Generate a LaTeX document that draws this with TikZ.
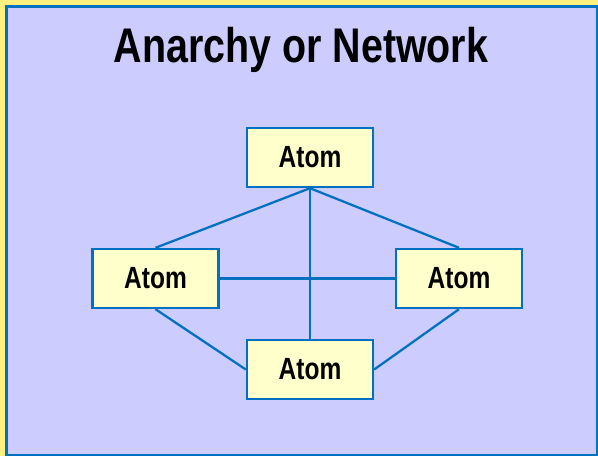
\documentclass[tikz,border=0pt]{standalone}
\usepackage{fontspec}
\setmainfont{Liberation Sans}
\definecolor{outery}{RGB}{255,240,128}
\definecolor{lav}{RGB}{204,204,255}
\definecolor{boxy}{RGB}{255,255,204}
\definecolor{lineb}{RGB}{0,112,192}
\newcommand{\atomtxt}{\raisebox{-1.5pt}{\scalebox{0.8}[1]{Atom}}}
\begin{document}
\begin{tikzpicture}[x=0.75pt,y=-0.75pt,
  atombox/.style={draw=lineb,fill=boxy,line width=1.8pt,minimum width=126*0.75pt,minimum height=59*0.75pt,inner sep=0pt,
    font=\fontsize{23}{26}\selectfont\bfseries},
  link/.style={draw=lineb,line width=1.7pt}]
\useasboundingbox (0,0) rectangle (598,456);
\fill[outery] (0,0) rectangle (598,456);
\draw[fill=lav,draw=lineb,line width=1.7pt] (6.5,6.5) rectangle (597,455);
\node[font=\fontsize{36.5}{40}\selectfont\bfseries] (title) at (301,50) {\scalebox{0.81}[1]{Anarchy or Network}};
\node[atombox] (top) at (310,157.5) {\atomtxt};
\node[atombox] (left) at (155.5,278.5) {\atomtxt};
\node[atombox] (right) at (459,278.5) {\atomtxt};
\node[atombox] (bottom) at (310,369.5) {\atomtxt};
\draw[link] (top.south) -- (left.north);
\draw[link] (top.south) -- (right.north);
\draw[link] (top.south) -- (bottom.north);
\draw[link] (left.east) -- (right.west);
\draw[link] (left.south) -- (bottom.west);
\draw[link] (right.south) -- (bottom.east);
\end{tikzpicture}
\end{document}
